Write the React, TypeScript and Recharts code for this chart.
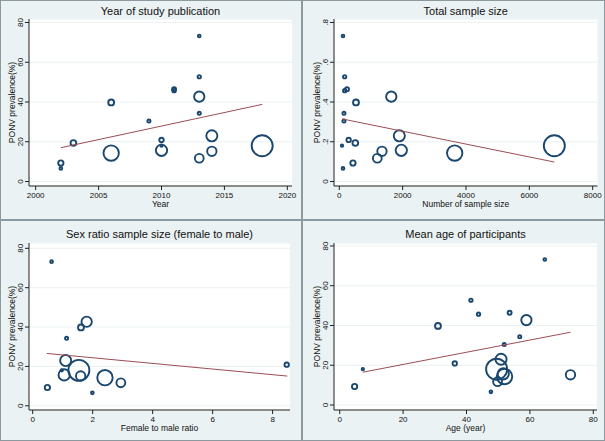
import React from "react";
import { ScatterChart, Scatter, XAxis, YAxis, ZAxis, CartesianGrid } from "recharts";

// one entry per study, same order in every array (null = not reported)
const prevalence = [73.2, 52.7, 46.4, 45.7, 42.7, 39.8, 34.3, 30.4, 23.0, 20.9, 19.4, 18.0, 18.0, 15.7, 15.2, 14.3, 11.7, 9.3, 6.6];
const pubYear = [2013, 2013, 2011, 2011, 2013, 2006, 2013, 2009, 2014, 2010, 2003, 2010, 2018, 2010, 2014, 2006, 2013, 2002, 2002];
const sampleSize = [117, 170, 243, 170, 1642, 527, 148, 148, 1895, 296, 506, 85, 6789, 1958, 1348, 3644, 1200, 432, 117];
const sexRatio = [0.63, null, null, null, 1.8, 1.61, 1.13, null, 1.1, 8.47, null, 0.97, 1.54, 1.05, 1.6, 2.41, 2.94, 0.49, 1.99];
const meanAge = [64.7, 41.4, 53.6, 43.8, 58.9, 31.0, 56.8, 51.9, 50.9, 36.3, null, 7.3, 49.5, 51.6, 72.8, 52.0, 49.8, 4.7, 47.7];

const yearTicks = [2000, 2005, 2010, 2015, 2020];
const sizeTicks = [0, 2000, 4000, 6000, 8000];
const ratioTicks = [0, 2, 4, 6, 8];
const ageTicks = [0, 20, 40, 60, 80];
const pctTicks = [0, 20, 40, 60, 80];
const propTicks = [0, 0.2, 0.4, 0.6, 0.8];

// linear fit end points
const yearFit = [{ x: 2002, y: 17.0 }, { x: 2018, y: 38.8 }];
const sizeFit = [{ x: 85, y: 0.315 }, { x: 6789, y: 0.098 }];
const ratioFit = [{ x: 0.47, y: 26.6 }, { x: 8.49, y: 15.1 }];
const ageFit = [{ x: 7.3, y: 16.5 }, { x: 72.8, y: 36.6 }];

const NAVY = "#1a476f";
const FIT = "#9c4d55";
const BG = "#eaf2f3";
const FONT = '"Liberation Sans", Arial, sans-serif';

const toPoints = (xs: (number | null)[], yScale = 1) =>
  xs
    .map((x, i) => (x == null ? null : { x, y: prevalence[i] * yScale, n: sampleSize[i] }))
    .filter(Boolean) as { x: number; y: number; n: number }[];

const Bubble = (props: any) => {
  const { cx, cy, width, size } = props;
  const r = width != null ? width / 2 : Math.sqrt((size ?? 0) / Math.PI);
  return <circle cx={cx} cy={cy} r={Math.max(r, 1.1)} fill="none" stroke={NAVY} strokeWidth={1.9} />;
};

const Empty = () => <g />;

const YTick = (props: any) => {
  const { x, y, payload, fmt } = props;
  return (
    <text x={x} y={y} transform={`rotate(-90 ${x} ${y})`} textAnchor="middle" fontSize={8} fill="#111">
      {fmt(payload.value)}
    </text>
  );
};

const pct = (v: number) => String(v);
const prop = (v: number) => (v === 0 ? "0" : v.toFixed(1).replace(/^0/, ""));

type Plot = { l: number; r: number; t: number; b: number };

function Panel(p: {
  left: number;
  top: number;
  w: number;
  h: number;
  plot: Plot;
  xDomain: [number, number];
  yDomain: [number, number];
  xTicks: number[];
  yTicks: number[];
  yFmt: (v: number) => string;
  data: { x: number; y: number; n: number }[];
  fit: { x: number; y: number }[];
  title: string;
  xTitle: string;
  titleY: number;
}) {
  const { plot, w, h } = p;
  const cx = (plot.l + plot.r) / 2;
  const cy = (plot.t + plot.b) / 2;
  return (
    <div style={{ position: "absolute", left: p.left, top: p.top, width: w, height: h, background: BG }}>
      <ScatterChart width={w} height={h} margin={{ top: plot.t, right: w - plot.r, bottom: 0, left: 0 }}>
        <CartesianGrid vertical={false} fill="#fff" stroke={BG} />
        <XAxis
          type="number"
          dataKey="x"
          domain={p.xDomain}
          ticks={p.xTicks}
          allowDataOverflow
          interval={0}
          height={h - plot.b}
          tickSize={4}
          tickMargin={2}
          stroke="#222"
          tick={{ fontSize: 8, fill: "#111" }}
        />
        <YAxis
          type="number"
          dataKey="y"
          domain={p.yDomain}
          ticks={p.yTicks}
          allowDataOverflow
          interval={0}
          width={plot.l}
          tickSize={4}
          tickMargin={2}
          stroke="#222"
          tick={<YTick fmt={p.yFmt} />}
        />
        <ZAxis type="number" dataKey="n" domain={[0, 6800]} range={[0, 347]} />
        <Scatter data={p.data} shape={Bubble} isAnimationActive={false} />
        <Scatter data={p.fit} line={{ stroke: FIT, strokeWidth: 1 }} shape={Empty} isAnimationActive={false} />
      </ScatterChart>
      <svg width={w} height={h} style={{ position: "absolute", left: 0, top: 0, pointerEvents: "none" }}>
        <text x={cx} y={p.titleY} textAnchor="middle" fontSize={11} fill="#111">
          {p.title}
        </text>
        <text x={cx} y={plot.b + 20.5} textAnchor="middle" fontSize={8.5} fill="#111">
          {p.xTitle}
        </text>
        <text
          x={plot.l - 14.5}
          y={cy}
          transform={`rotate(-90 ${plot.l - 14.5} ${cy})`}
          textAnchor="middle"
          fontSize={8.5}
          fill="#111"
        >
          PONV prevalence(%)
        </text>
        <rect x={0.5} y={0.5} width={w - 1} height={h - 1} fill="none" stroke="#8c9aa0" />
      </svg>
    </div>
  );
}

export default function App() {
  return (
    <div style={{ position: "relative", width: 605, height: 441, fontFamily: FONT, background: BG }}>
      <style>{"body{margin:0}"}</style>
      <Panel
        left={0}
        top={0}
        w={302}
        h={220}
        plot={{ l: 29, r: 292, t: 19, b: 186 }}
        xDomain={[1999.47, 2020.37]}
        yDomain={[-2.26, 81.76]}
        xTicks={yearTicks}
        yTicks={pctTicks}
        yFmt={pct}
        data={toPoints(pubYear)}
        fit={yearFit}
        title="Year of study publication"
        xTitle="Year"
        titleY={15}
      />
      <Panel
        left={302}
        top={0}
        w={303}
        h={220}
        plot={{ l: 32, r: 295.5, t: 19, b: 186 }}
        xDomain={[-167, 8152]}
        yDomain={[-0.0226, 0.8176]}
        xTicks={sizeTicks}
        yTicks={propTicks}
        yFmt={prop}
        data={toPoints(sampleSize, 0.01)}
        fit={sizeFit}
        title="Total sample size"
        xTitle="Number of sample size"
        titleY={15}
      />
      <Panel
        left={0}
        top={220}
        w={302}
        h={221}
        plot={{ l: 29, r: 290, t: 23, b: 190 }}
        xDomain={[-0.123, 8.58]}
        yDomain={[-2.13, 82.7]}
        xTicks={ratioTicks}
        yTicks={pctTicks}
        yFmt={pct}
        data={toPoints(sexRatio)}
        fit={ratioFit}
        title="Sex ratio sample size (female to male)"
        xTitle="Female to male ratio"
        titleY={18.3}
      />
      <Panel
        left={302}
        top={220}
        w={303}
        h={221}
        plot={{ l: 32, r: 295, t: 23, b: 190 }}
        xDomain={[-1.8, 81.17]}
        yDomain={[-2.52, 81.5]}
        xTicks={ageTicks}
        yTicks={pctTicks}
        yFmt={pct}
        data={toPoints(meanAge)}
        fit={ageFit}
        title="Mean age of participants"
        xTitle="Age (year)"
        titleY={18.3}
      />
    </div>
  );
}
